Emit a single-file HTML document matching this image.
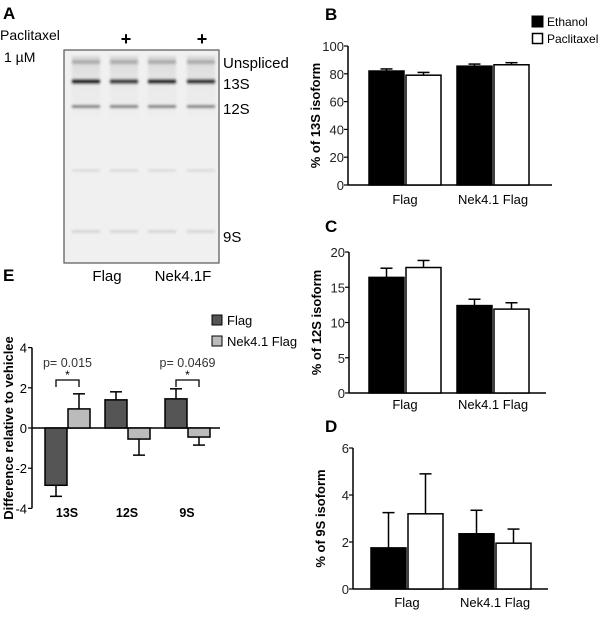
<!DOCTYPE html>
<html><head><meta charset="utf-8"><style>
body{margin:0;background:#fff;width:600px;height:612px;overflow:hidden}
svg{font-family:"Liberation Sans",sans-serif}
</style></head><body>
<svg id="fig" width="600" height="612" viewBox="0 0 600 612">
<defs>
<filter id="blur1"><feGaussianBlur stdDeviation="1.2"/></filter>
<linearGradient id="smear" x1="0" y1="0" x2="0" y2="1">
<stop offset="0" stop-color="#ccc"/><stop offset="0.5" stop-color="#e6e6e6"/><stop offset="1" stop-color="#ececec"/></linearGradient>
</defs>
<g>
<text x="3" y="19" font-size="17" font-weight="bold">A</text>
<text x="0" y="40" font-size="14">Paclitaxel</text>
<text x="4" y="62" font-size="14">1 µM</text>
<text x="126" y="45" font-size="18" font-weight="bold" text-anchor="middle">+</text>
<text x="202" y="45" font-size="18" font-weight="bold" text-anchor="middle">+</text>
<rect x="64" y="50" width="155" height="213" fill="#f0f0f0" stroke="#555" stroke-width="1.2"/>
<g id="lanes" filter="url(#blur1)"></g>
<text x="223" y="68" font-size="15">Unspliced</text>
<text x="223" y="89" font-size="15">13S</text>
<text x="223" y="114" font-size="15">12S</text>
<text x="223" y="242" font-size="15">9S</text>
<text x="107" y="281" font-size="15" text-anchor="middle">Flag</text>
<text x="183" y="281" font-size="15" text-anchor="middle">Nek4.1F</text>
</g>
<text x="3" y="281" font-size="17" font-weight="bold">E</text>
<text x="325" y="20" font-size="17" font-weight="bold">B</text>
<text x="325" y="232" font-size="17" font-weight="bold">C</text>
<text x="325" y="432" font-size="17" font-weight="bold">D</text>
<g>
<rect x="532" y="16" width="11" height="11" fill="#000" stroke="#000"/>
<text x="547" y="26" font-size="12">Ethanol</text>
<rect x="532.5" y="33.5" width="10" height="10" fill="#fff" stroke="#000" stroke-width="1.5"/>
<text x="547" y="43" font-size="12">Paclitaxel</text>
</g>
<g>
<rect x="212" y="315" width="10" height="10" fill="#555" stroke="#000"/>
<text x="227" y="325" font-size="13">Flag</text>
<rect x="212" y="336" width="10" height="10" fill="#bbb" stroke="#000"/>
<text x="227" y="346" font-size="13">Nek4.1 Flag</text>
</g>
<g id="charts"></g>
</svg>
<script>
const NS="http://www.w3.org/2000/svg";
const groups=["Flag","Nek4.1 Flag"];
const series=["Ethanol","Paclitaxel"];
const b13Vals=[82,79,85.5,86.5];
const b13Errs=[1.5,2,1.5,1.5];
const b13Ticks=[0,20,40,60,80,100];
const c12Vals=[16.4,17.8,12.4,11.9];
const c12Errs=[1.3,1.0,0.9,0.9];
const c12Ticks=[0,5,10,15,20];
const d9Vals=[1.75,3.2,2.35,1.95];
const d9Errs=[1.5,1.7,1.0,0.6];
const d9Ticks=[0,2,4,6];
const eCats=["13S","12S","9S"];
const eFlag=[-2.85,1.4,1.45];
const eFlagErr=[0.55,0.4,0.5];
const eNek=[0.95,-0.55,-0.45];
const eNekErr=[0.75,0.8,0.4];
const eTicks=[-4,-2,0,2,4];
const eSig=[{cat:0,p:"p= 0.015"},{cat:2,p:"p= 0.0469"}];

const root=document.getElementById('charts');
function mk(tag,attrs,parent){const e=document.createElementNS(NS,tag);for(const k in attrs)e.setAttribute(k,attrs[k]);(parent||root).appendChild(e);return e;}

function barPanel(name,vals,errs,ticks,ax,y0,yTop,xEnd,barStart,title,catY){
  const g=mk('g',{});
  
  
  const max=ticks[ticks.length-1];
  const ys=v=>y0-(v/max)*(y0-yTop);
  const ax1=mk('line',{x1:ax,y1:yTop,x2:ax,y2:y0,stroke:'#000','stroke-width':1.5},g);
  
  const ax2=mk('line',{x1:ax,y1:y0,x2:xEnd,y2:y0,stroke:'#000','stroke-width':1.5},g);
  
  ticks.forEach(t=>{
    const y=ys(t);
    mk('line',{x1:ax-4,y1:y,x2:ax,y2:y,stroke:'#000','stroke-width':1.2},g);
    const tx=mk('text',{x:ax-4,y:y+5,'font-size':13,'text-anchor':'end',fill:'#222'},g);
    tx.textContent=t;
    
    
  });
  const bw=35, gap=2, grpW=88;
  vals.forEach((v,i)=>{
    const gi=Math.floor(i/2), si=i%2;
    const x=barStart+gi*grpW+si*(bw+gap);
    const top=ys(v+errs[i]), yt=ys(v);
    mk('line',{x1:x+bw/2,y1:yt,x2:x+bw/2,y2:top,stroke:'#000','stroke-width':1.5},g);
    mk('line',{x1:x+bw/2-6,y1:top,x2:x+bw/2+6,y2:top,stroke:'#000','stroke-width':1.5},g);
    const r=mk('rect',{x:x,y:yt,width:bw,height:y0-yt,fill:si?'#fff':'#000',stroke:'#000','stroke-width':1.5},g);
    
    
  });
  groups.forEach((c,gi)=>{
    const t=mk('text',{x:barStart+gi*grpW+bw+gap/2,y:catY,'font-size':13,'text-anchor':'middle'},g);
    t.textContent=c;
    
    
  });
  const yt=(y0+yTop)/2;
  const tt=mk('text',{x:0,y:0,'font-size':13,'font-weight':'bold','text-anchor':'middle',transform:`translate(${ax-28},${yt}) rotate(-90)`},g);
  tt.textContent=title;
  
  
}
barPanel('chart-b-13s',b13Vals,b13Errs,b13Ticks,348,185,46,552,369,'% of 13S isoform',204);
barPanel('chart-c-12s',c12Vals,c12Errs,c12Ticks,349,393,252,546,369,'% of 12S isoform',409);
barPanel('chart-d-9s',d9Vals,d9Errs,d9Ticks,353,589,448,548,371,'% of 9S isoform',607);

(function(){
  const g=mk('g',{});
  
  
  const ax=32,y0=428,unit=20.1;
  const ys=v=>y0-v*unit;
  const a1=mk('line',{x1:ax,y1:ys(4),x2:ax,y2:ys(-4),stroke:'#000','stroke-width':1.5},g);
  
  const a2=mk('line',{x1:ax,y1:y0,x2:220,y2:y0,stroke:'#000','stroke-width':1.5},g);
  
  eTicks.forEach(t=>{
    mk('line',{x1:ax-4,y1:ys(t),x2:ax,y2:ys(t),stroke:'#000','stroke-width':1.2},g);
    const tx=mk('text',{x:ax-5,y:ys(t)+5,'font-size':13,'text-anchor':'end'},g);
    tx.textContent=t;
    
    
  });
  const bw=22,grp=60,start=45;
  eCats.forEach((c,i)=>{
    [[eFlag,eFlagErr,'#555','flag'],[eNek,eNekErr,'#bbb','nek']].forEach((s,si)=>{
      const v=s[0][i],e=s[1][i];
      const x=start+i*grp+si*(bw+1);
      const ye=ys(v+(v>=0?e:-e));
      mk('line',{x1:x+bw/2,y1:ys(v),x2:x+bw/2,y2:ye,stroke:'#000','stroke-width':1.5},g);
      mk('line',{x1:x+bw/2-6,y1:ye,x2:x+bw/2+6,y2:ye,stroke:'#000','stroke-width':1.5},g);
      const r=mk('rect',{x:x,y:Math.min(ys(v),y0),width:bw,height:Math.abs(ys(v)-y0),fill:s[2],stroke:'#000','stroke-width':1.5},g);
      
      
    });
    const t=mk('text',{x:start+i*grp+bw,y:517,'font-size':12.5,'font-weight':'bold','text-anchor':'middle'},g);
    t.textContent=c;
    
    
  });
  eSig.forEach(s=>{
    const x1=start+s.cat*grp+bw/2, x2=x1+bw+1;
    const br=mk('path',{d:`M${x1},387 V380 H${x2} V387`,fill:'none',stroke:'#000','stroke-width':1.3},g);
    
    
    const st=mk('text',{x:(x1+x2)/2,y:379,'font-size':12,'text-anchor':'middle'},g);
    st.textContent='*';
    
    
    const p=mk('text',{x:(x1+x2)/2,y:367,'font-size':12.5,'text-anchor':'middle',fill:'#333'},g);
    p.textContent=s.p;
    
    
  });
  const tt=mk('text',{x:0,y:0,'font-size':13,'font-weight':'bold','text-anchor':'middle',transform:'translate(13,428) rotate(-90)'},g);
  tt.textContent='Difference relative to vehiclee';
  
  
})();

(function(){
  const L=document.getElementById('lanes');
  const lanes=[72,110,148,187];
  const dark=[0.9,0.75,0.85,0.8];
  lanes.forEach((x,i)=>{
    const w=28;
    mk('rect',{x:x,y:56,width:w,height:60,fill:'url(#smear)',opacity:0.7},L);
    mk('rect',{x:x,y:60,width:w,height:4,fill:'#aaa'},L);
    mk('rect',{x:x,y:79,width:w,height:5,fill:'#000',opacity:dark[i]},L);
    mk('rect',{x:x,y:105,width:w,height:3,fill:'#777'},L);
    mk('rect',{x:x,y:169,width:w,height:3,fill:'#ddd'},L);
    mk('rect',{x:x,y:230,width:w,height:3,fill:'#d6d6d6'},L);
  });
})();
</script>
</body></html>
